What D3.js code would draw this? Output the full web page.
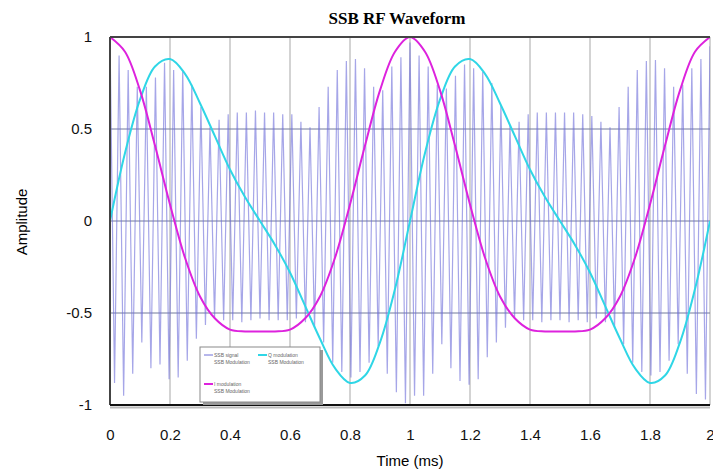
<!DOCTYPE html>
<html>
<head>
<meta charset="utf-8">
<script src="https://cdn.jsdelivr.net/npm/d3@7"></script>
<style>
  body { margin: 0; background: #fff; }
</style>
</head>
<body>
<div id="chart"></div>
<script>
// axis ticks
const xTicks = [0, 0.2, 0.4, 0.6, 0.8, 1, 1.2, 1.4, 1.6, 1.8, 2];
const yTicks = [-1, -0.5, 0, 0.5, 1];

// sample times (ms) for the I / Q modulation curves
const curveTimes = [0, 0.05, 0.1, 0.15, 0.2, 0.25, 0.3, 0.35, 0.4, 0.45, 0.5,
  0.55, 0.6, 0.65, 0.7, 0.75, 0.8, 0.85, 0.9, 0.95, 1,
  1.05, 1.1, 1.15, 1.2, 1.25, 1.3, 1.35, 1.4, 1.45, 1.5,
  1.55, 1.6, 1.65, 1.7, 1.75, 1.8, 1.85, 1.9, 1.95, 2];

// I modulation (magenta)
const iMod = [1.00, 0.92, 0.71, 0.41, 0.09, -0.20, -0.41, -0.53, -0.59, -0.60, -0.60,
  -0.60, -0.59, -0.53, -0.41, -0.20, 0.09, 0.41, 0.71, 0.92, 1.00,
  0.92, 0.71, 0.41, 0.09, -0.20, -0.41, -0.53, -0.59, -0.60, -0.60,
  -0.60, -0.59, -0.53, -0.41, -0.20, 0.09, 0.41, 0.71, 0.92, 1.00];

// Q modulation (cyan)
const qMod = [0, 0.37, 0.66, 0.84, 0.88, 0.80, 0.64, 0.46, 0.28, 0.13, 0,
  -0.13, -0.28, -0.46, -0.64, -0.80, -0.88, -0.84, -0.66, -0.37, 0,
  0.37, 0.66, 0.84, 0.88, 0.80, 0.64, 0.46, 0.28, 0.13, 0,
  -0.13, -0.28, -0.46, -0.64, -0.80, -0.88, -0.84, -0.66, -0.37, 0];

// SSB signal: carrier cycles per ms, and the top / bottom of each cycle
const carrierCyclesPerMs = 33;
const sigPeaks = [1.00, 0.90, 0.82, 0.73, 0.73, 0.78, 0.86, 0.82, 0.82, 0.74, 0.62,
  0.51, 0.55, 0.58, 0.59, 0.59, 0.60, 0.59, 0.59, 0.58, 0.58, 0.54,
  0.51, 0.62, 0.73, 0.82, 0.87, 0.88, 0.83, 0.73, 0.71, 0.84, 0.89,
  0.97, 0.90, 0.84, 0.74, 0.72, 0.79, 0.85, 0.83, 0.81, 0.75, 0.63,
  0.52, 0.54, 0.58, 0.59, 0.59, 0.59, 0.59, 0.59, 0.58, 0.57, 0.54,
  0.51, 0.62, 0.73, 0.82, 0.87, 0.875, 0.83, 0.73, 0.74, 0.83, 0.88,
  0.95];
const sigTroughs = [-0.88, -0.95, -0.83, -0.66, -0.80, -0.78, -0.86, -0.85, -0.76, -0.64, -0.565,
  -0.53, -0.54, -0.54, -0.55, -0.54, -0.53, -0.54, -0.54, -0.54, -0.53, -0.55,
  -0.58, -0.66, -0.77, -0.82, -0.85, -0.82, -0.77, -0.68, -0.83, -0.93, -0.99,
  -0.95, -0.95, -0.83, -0.67, -0.80, -0.87, -0.89, -0.86, -0.74, -0.66, -0.58,
  -0.53, -0.54, -0.54, -0.55, -0.54, -0.54, -0.55, -0.54, -0.55, -0.53, -0.55,
  -0.58, -0.67, -0.77, -0.82, -0.84, -0.82, -0.76, -0.67, -0.83, -0.94, -0.97];

const legendItems = [
  {name: "SSB signal", sub: "SSB Modulation", color: "#6f6fd8"},
  {name: "Q modulation", sub: "SSB Modulation", color: "#2fd6e6"},
  {name: "I modulation", sub: "SSB Modulation", color: "#dd22dd"}
];

let margin = {top: 37, right: 3, bottom: 70, left: 110},
    width = 713 - margin.left - margin.right,
    height = 475 - margin.top - margin.bottom;

let svg = d3.select("#chart")
  .append("svg")
    .attr("width", 713)
    .attr("height", 475);

let g = svg.append("g")
  .attr("transform", "translate(" + margin.left + "," + margin.top + ")");

const X_SCALE = d3.scaleLinear().domain([0, 2]).range([0, 600]);
const Y_SCALE = d3.scaleLinear().domain([-1, 1]).range([height, 0]);

// plain hyphen minus like the original
const fmt = d => String(d);

// clip to the plot box
svg.append("defs").append("clipPath").attr("id", "plotClip")
  .append("rect").attr("x", 0).attr("y", -2).attr("width", width).attr("height", height + 4);

// vertical grid
g.append("g")
  .selectAll("line")
  .data(xTicks.slice(1))
  .enter().append("line")
    .attr("x1", d => X_SCALE(d)).attr("x2", d => X_SCALE(d))
    .attr("y1", 0).attr("y2", height)
    .style("stroke", "#c4c4c4").style("stroke-width", 1.5);

// horizontal grid
g.append("g")
  .selectAll("line")
  .data(yTicks.slice(1, -1))
  .enter().append("line")
    .attr("x1", 0).attr("x2", width)
    .attr("y1", d => Y_SCALE(d)).attr("y2", d => Y_SCALE(d))
    .style("stroke", "#737a9c").style("stroke-width", 1);

let plot = g.append("g").attr("clip-path", "url(#plotClip)");

// SSB signal: alternate peak / trough of each carrier cycle
let sigPoints = [];
sigPeaks.forEach((p, i) => {
  sigPoints.push([i / carrierCyclesPerMs, p]);
  if (i < sigTroughs.length) sigPoints.push([(i + 0.5) / carrierCyclesPerMs, sigTroughs[i]]);
});

plot.append("path")
  .datum(sigPoints)
  .attr("d", d3.line().x(d => X_SCALE(d[0])).y(d => Y_SCALE(d[1])))
  .style("fill", "none")
  .style("stroke", "#6a6ad8")
  .style("stroke-opacity", 0.6)
  .style("stroke-width", 1.2);

// I and Q curves
const curveLine = d3.line()
  .x((d, i) => X_SCALE(curveTimes[i]))
  .y(d => Y_SCALE(d))
  .curve(d3.curveCatmullRom);

plot.append("path")
  .datum(qMod)
  .attr("d", curveLine)
  .style("fill", "none")
  .style("stroke", "#2fd6e6")
  .style("stroke-width", 2);

plot.append("path")
  .datum(iMod)
  .attr("d", curveLine)
  .style("fill", "none")
  .style("stroke", "#dd22dd")
  .style("stroke-width", 2);

// frame
g.append("line").attr("x1", 0).attr("x2", width).attr("y1", 0).attr("y2", 0)
  .style("stroke", "#444").style("stroke-width", 2);
g.append("line").attr("x1", 0).attr("x2", 0).attr("y1", 0).attr("y2", height)
  .style("stroke", "#444").style("stroke-width", 2);
g.append("line").attr("x1", 0).attr("x2", width).attr("y1", height + 2.5).attr("y2", height + 2.5)
  .style("stroke", "#bbb").style("stroke-width", 2);
g.append("line").attr("x1", 0).attr("x2", width).attr("y1", height).attr("y2", height)
  .style("stroke", "#111").style("stroke-width", 2);

// axes
let xAxis = g.append("g")
  .attr("transform", "translate(0," + height + ")")
  .call(d3.axisBottom(X_SCALE).tickValues(xTicks).tickSize(0).tickPadding(24).tickFormat(fmt));
xAxis.select(".domain").remove();
xAxis.selectAll("text")
  .style("font-family", "Arial, 'Liberation Sans', sans-serif")
  .style("font-size", "15px").style("fill", "#111");

let yAxis = g.append("g")
  .call(d3.axisLeft(Y_SCALE).tickValues(yTicks).tickSize(0).tickPadding(18).tickFormat(fmt));
yAxis.select(".domain").remove();
yAxis.selectAll("text")
  .style("font-family", "Arial, 'Liberation Sans', sans-serif")
  .style("font-size", "15px").style("fill", "#111");

// titles
svg.append("text")
  .attr("x", 397).attr("y", 24)
  .attr("text-anchor", "middle")
  .style("font-family", "'Liberation Serif', 'Times New Roman', serif")
  .style("font-weight", "bold").style("font-size", "17px")
  .text("SSB RF Waveform");

svg.append("text")
  .attr("x", 410).attr("y", 466)
  .attr("text-anchor", "middle")
  .style("font-family", "Arial, 'Liberation Sans', sans-serif")
  .style("font-size", "15px")
  .text("Time (ms)");

svg.append("text")
  .attr("transform", "translate(27,222) rotate(-90)")
  .attr("text-anchor", "middle")
  .style("font-family", "Arial, 'Liberation Sans', sans-serif")
  .style("font-size", "15px")
  .text("Amplitude");

// legend
let legend = svg.append("g").attr("transform", "translate(200,347)");
legend.append("rect").attr("x", 3).attr("y", 3).attr("width", 120).attr("height", 55)
  .style("fill", "#9a9a9a");
legend.append("rect").attr("x", 0).attr("y", 0).attr("width", 120).attr("height", 55)
  .style("fill", "#fff").style("stroke", "#8a8a8a").style("stroke-width", 1);

const legendPos = [[4, 8], [58, 8], [4, 37]];
legendItems.forEach((d, i) => {
  let e = legend.append("g").attr("transform", "translate(" + legendPos[i][0] + "," + legendPos[i][1] + ")");
  e.append("line").attr("x1", 0).attr("x2", 9).attr("y1", 0).attr("y2", 0)
    .style("stroke", d.color).style("stroke-width", i == 0 ? 1 : 2);
  e.append("text").attr("x", 10).attr("y", 2).text(d.name)
    .style("font-family", "Arial, sans-serif").style("font-size", "5px").style("fill", "#666");
  e.append("text").attr("x", 10).attr("y", 9).text(d.sub)
    .style("font-family", "Arial, sans-serif").style("font-size", "5px").style("fill", "#666");
});
</script>
</body>
</html>
